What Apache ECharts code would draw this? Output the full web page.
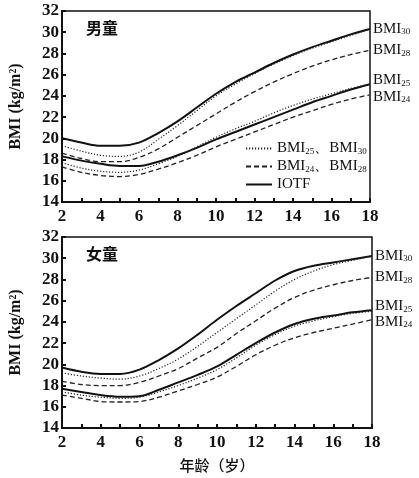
<!DOCTYPE html>
<html><head><meta charset="utf-8">
<script src="https://cdn.jsdelivr.net/npm/echarts@6/dist/echarts.min.js"></script>
<style>html,body{margin:0;padding:0;background:#fff}#c{width:419px;height:478px}</style>
</head><body><div id="c"></div>
<script>
const ages = [2,3,4,5,6,7,8,9,10,11,12,13,14,15,16,17,18];
const yTicks = [14,16,18,20,22,24,26,28,30,32];
// Boys
const boysIOTF30 = [20.0,19.6,19.3,19.3,19.6,20.5,21.6,22.9,24.2,25.3,26.2,27.1,27.9,28.6,29.2,29.8,30.3];
const boysBMI30  = [19.3,18.8,18.4,18.3,18.7,19.9,21.2,22.6,24.0,25.1,26.1,27.0,27.8,28.5,29.1,29.7,30.3];
const boysBMI28  = [18.6,18.1,17.8,17.8,18.2,19.0,20.1,21.2,22.3,23.4,24.4,25.3,26.1,26.8,27.4,27.9,28.3];
const boysIOTF25 = [18.3,17.9,17.6,17.4,17.4,17.8,18.4,19.1,19.9,20.6,21.3,22.0,22.7,23.4,24.0,24.6,25.1];
const boysBMI25  = [17.7,17.2,16.9,16.8,17.0,17.6,18.3,19.2,20.1,20.9,21.6,22.4,23.1,23.7,24.2,24.7,25.1];
const boysBMI24  = [17.3,16.8,16.5,16.4,16.6,17.1,17.7,18.4,19.2,19.9,20.6,21.3,22.0,22.6,23.2,23.7,24.1];
// Girls
const girlsIOTF30 = [19.7,19.3,19.1,19.1,19.5,20.4,21.5,22.8,24.2,25.5,26.7,27.9,28.8,29.3,29.6,29.9,30.2];
const girlsBMI30  = [19.2,18.9,18.7,18.6,18.9,19.6,20.5,21.7,23.0,24.3,25.6,26.9,28.0,28.8,29.4,29.8,30.2];
const girlsBMI28  = [18.4,18.1,18.0,18.0,18.3,18.9,19.6,20.6,21.6,22.9,24.1,25.3,26.3,27.0,27.5,27.9,28.2];
const girlsIOTF25 = [17.7,17.4,17.1,16.95,17.0,17.6,18.3,19.0,19.8,20.9,22.0,23.0,23.8,24.3,24.6,24.9,25.1];
const girlsBMI25  = [17.4,17.1,16.9,16.8,16.9,17.4,18.0,18.7,19.5,20.6,21.8,22.8,23.6,24.1,24.5,24.8,25.0];
const girlsBMI24  = [17.1,16.8,16.5,16.45,16.5,16.9,17.5,18.1,18.8,19.8,20.9,21.8,22.5,23.0,23.4,23.8,24.2];

const panelTitles = ['男童','女童'];
const xName = '年龄（岁）';
const yName = 'BMI (kg/m²)';
const legendNames = ['dot','dash','IOTF'];

const serif = 'Liberation Serif';
const rich = {a:{fontFamily:serif,fontSize:15,color:'#111'},b:{fontFamily:serif,fontSize:9,color:'#111',verticalAlign:'bottom',padding:[6,0,0,0]}};

function pts(arr){return ages.map((a,i)=>[a,arr[i]]);}
function mk(name, arr, gi, kind, lab, off){
  const ls = kind==='solid'?{type:'solid',width:2,color:'#111'}:
             kind==='dot'?{type:[1.2,1.8],width:1.2,color:'#222'}:
             {type:[5,3],width:1.3,color:'#222'};
  const s = {name:name,type:'line',xAxisIndex:gi,yAxisIndex:gi,data:pts(arr),symbol:'none',smooth:0.35,
    lineStyle:ls,itemStyle:{color:'#111'},emphasis:{disabled:true},silent:true};
  if(lab){s.endLabel={show:true,formatter:'{a|BMI}{b|'+lab+'}',rich:rich,offset:off,distance:3};}
  return s;
}

const grids=[{left:55,right:49,top:11,height:191},{left:56,right:47,top:237,height:191}];
const xAxes=[0,1].map(i=>({gridIndex:i,type:'value',min:2,max:18,interval:1,
  axisLine:{lineStyle:{color:'#111',width:2}},axisTick:{inside:true,length:4,lineStyle:{color:'#111',width:2}},
  splitLine:{show:false},
  axisLabel:{formatter:v=>(v%2===0?String(v):''),fontFamily:serif,fontWeight:'bold',fontSize:17,color:'#111',margin:6},
  name:i===1?xName:'',nameLocation:'middle',nameGap:30,nameTextStyle:{fontFamily:'Noto Sans CJK SC',fontWeight:500,fontSize:15,color:'#111'}}));
const yAxes=[0,1].map(i=>({gridIndex:i,type:'value',min:14,max:32,interval:2,
  axisLine:{lineStyle:{color:'#111',width:2}},axisTick:{show:true,inside:true,length:4,lineStyle:{color:'#111',width:2}},
  splitLine:{show:false},
  axisLabel:{fontFamily:serif,fontWeight:'bold',fontSize:17,color:'#111',margin:3},
  name:yName,nameLocation:'middle',nameGap:38,nameRotate:90,nameTextStyle:{fontFamily:serif,fontWeight:'bold',fontSize:16,color:'#111'}}));

const series=[
  mk('IOTF',boysIOTF30,0,'solid','30',[0,0]),
  mk('dot',boysBMI30,0,'dot',null),
  mk('dash',boysBMI28,0,'dash','28',[0,0]),
  mk('IOTF',boysIOTF25,0,'solid','25',[0,-4]),
  mk('dot',boysBMI25,0,'dot',null),
  mk('dash',boysBMI24,0,'dash','24',[0,2]),
  mk('IOTF',girlsIOTF30,1,'solid','30',[0,0]),
  mk('dot',girlsBMI30,1,'dot',null),
  mk('dash',girlsBMI28,1,'dash','28',[0,0]),
  mk('IOTF',girlsIOTF25,1,'solid','25',[0,-4]),
  mk('dot',girlsBMI25,1,'dot',null),
  mk('dash',girlsBMI24,1,'dash','24',[0,2])
];

const legendText={dot:'{a|BMI}{b|25}{a|、BMI}{b|30}',dash:'{a|BMI}{b|24}{a|、BMI}{b|28}',IOTF:'{a|IOTF}'};

const chart=echarts.init(document.getElementById('c'),null,{renderer:'canvas'});
chart.setOption({
  animation:false,
  backgroundColor:'#fff',
  title:panelTitles.map((t,i)=>({text:t,left:81,top:i===0?15:241,textStyle:{fontFamily:'Noto Sans CJK SC',fontWeight:'bold',fontSize:16,color:'#111'}})),
  legend:{data:legendNames,orient:'vertical',left:240,top:136,itemGap:3,itemWidth:26,itemHeight:10,
    itemStyle:{opacity:0},
    formatter:n=>legendText[n],textStyle:{rich:rich},selectedMode:false,inactiveColor:'#111'},
  grid:grids.map(g=>Object.assign({show:true,borderColor:'#111',borderWidth:1.5,backgroundColor:'transparent'},g)),
  xAxis:xAxes,yAxis:yAxes,series:series
});
</script></body></html>
